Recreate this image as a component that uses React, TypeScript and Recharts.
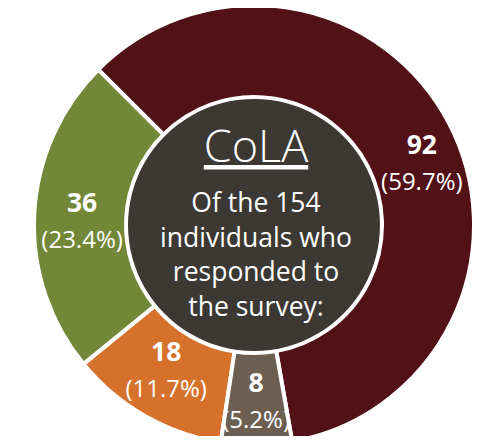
import React from "react";
import { PieChart, Pie, Cell } from "recharts";

const categories = ["Group A", "Group B", "Group C", "Group D"];
const counts = [92, 36, 18, 8];
const colors = ["#521017", "#728737", "#d5712a", "#6c5f52"];
const titleText = "CoLA";
const centerLines = ["Of the 154", "individuals who", "responded to", "the survey:"];
const centerValue = [1];

// label layout tweaks (not data)
const LABEL_ANGLE_SHIFT = [-10, 4.5, 0, 0];
const LABEL_RADIUS = [176, 172, 177, 185];

const FONT = "'Open Sans', 'DejaVu Sans', sans-serif";
const CX = 254;
const CY = 225;
const RAD = Math.PI / 180;

const total = counts.reduce((a, b) => a + b, 0);
const data = categories.map((name, i) => ({ name, value: counts[i] }));

const renderLabel = (props: any) => {
  const { cx, cy, midAngle, index, value } = props;
  const a = (midAngle + LABEL_ANGLE_SHIFT[index]) * RAD;
  const r = LABEL_RADIUS[index];
  const x = cx + r * Math.cos(a);
  const y = cy - r * Math.sin(a);
  const pct = ((value / total) * 100).toFixed(1);
  return (
    <g key={`lbl-${index}`}>
      <text x={x} y={y - 18} textAnchor="middle" fill="#ffffff" fontFamily={FONT} fontWeight={700} fontSize={26.5}>
        {value}
      </text>
      <text x={x} y={y + 18} textAnchor="middle" fill="#ffffff" fontFamily={FONT} fontWeight={400} fontSize={24}>
        {`(${pct}%)`}
      </text>
    </g>
  );
};

const renderCenter = (props: any) => {
  const { cx, cy } = props;
  return (
    <g key="center-text">
      <text x={cx + 2} y={cy - 63} textAnchor="middle" fill="#ffffff" fontFamily={FONT} fontWeight={300} fontSize={45} textDecoration="underline">
        {titleText}
      </text>
      {centerLines.map((t, i) => (
        <text key={i} x={cx + 2} y={cy - 13 + i * 34.5} textAnchor="middle" fill="#ffffff" fontFamily={FONT} fontWeight={400} fontSize={26.5}>
          {t}
        </text>
      ))}
    </g>
  );
};

export default function App() {
  return (
    <div style={{ margin: -8, width: 492, height: 444, background: "#ffffff" }}>
      <PieChart width={492} height={444} margin={{ top: 0, right: 0, bottom: 0, left: 0 }}>
        <Pie
          data={data}
          dataKey="value"
          nameKey="name"
          cx={CX}
          cy={CY}
          innerRadius={128}
          outerRadius={220}
          startAngle={-80}
          endAngle={280}
          stroke="#ffffff"
          strokeWidth={4}
          label={renderLabel}
          labelLine={false}
          isAnimationActive={false}
        >
          {data.map((d, i) => (
            <Cell key={d.name} fill={colors[i]} />
          ))}
        </Pie>
        <Pie
          data={centerValue.map((v) => ({ name: "center", value: v }))}
          dataKey="value"
          cx={CX}
          cy={CY}
          innerRadius={0}
          outerRadius={126}
          startAngle={90}
          endAngle={450}
          fill="#3c3934"
          stroke="none"
          label={renderCenter}
          labelLine={false}
          isAnimationActive={false}
        />
      </PieChart>
    </div>
  );
}
